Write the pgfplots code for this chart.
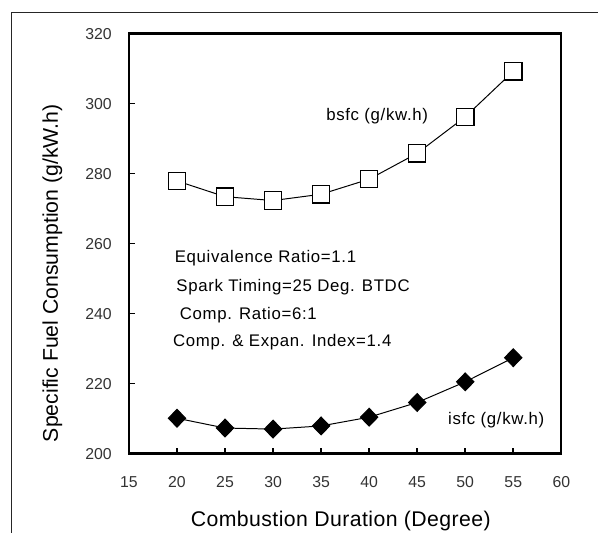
\documentclass[border=0pt]{standalone}
\usepackage{pgfplots}
\pgfplotsset{compat=1.18}
\usepackage{fontspec}
\setmainfont{Liberation Sans}
\newfontfamily\annfont[LetterSpace=4]{Liberation Sans}
\newfontfamily\xlabfont[LetterSpace=2]{Liberation Sans}
\begin{document}
\begin{tikzpicture}
\begin{axis}[name=ax, at={(0,0)}, anchor=south west,
 scale only axis, width=437.5bp, height=425bp,
 xmin=15,xmax=60,ymin=200,ymax=320,
 xtick={15,20,...,60}, ytick={200,220,...,320},
 tick pos=left, tick align=inside, major tick length=6bp,
 axis line style={line width=2.4bp},
 tick style={line width=1.6bp, black},
 /pgf/number format/assume math mode=true,
 ticklabel style={font=\fontsize{16bp}{19bp}\selectfont, text=black!80},
 xticklabel style={yshift=-20bp},
 yticklabel style={xshift=-14bp},
 xlabel={Combustion Duration (Degree)},
 ylabel={Specific Fuel Consumption (g/kW.h)},
 xlabel style={font=\xlabfont\fontsize{21.5bp}{25bp}\selectfont, at={(axis description cs:0.49,-0.174)}, anchor=base},
 ylabel style={font=\fontsize{21.5bp}{25bp}\selectfont, at={(axis description cs:-0.177,0.4294)}, anchor=center},
 clip=false,
]
\addplot[black, line width=1bp, mark=square*, mark size=8.8bp, mark options={line width=1.2bp, draw=black, fill=white}]
 coordinates {(20,277.9) (25,273.4) (30,272.3) (35,274.1) (40,278.4) (45,285.8) (50,296.2) (55,309.2)};
\addplot[black, line width=1bp, mark=diamond*, mark size=9bp, mark options={xscale=1.3, fill=black}]
 coordinates {(20,210.1) (25,207.3) (30,207.0) (35,207.9) (40,210.4) (45,214.6) (50,220.5) (55,227.4)};
\begin{scope}[every node/.style={font=\annfont\fontsize{17bp}{20bp}\selectfont, anchor=base west, inner sep=0pt}]
\node at (axis cs:19.75,254.5) {Equivalence Ratio=1.1};
\node at (axis cs:19.92,246.3) {Spark Timing=25 Deg. BTDC};
\node at (axis cs:20.27,238.4) {Comp. Ratio=6:1};
\node at (axis cs:19.58,230.7) {Comp. \& Expan. Index=1.4};
\node at (axis cs:35.52,295.2) {bsfc (g/kw.h)};
\node at (axis cs:48.2,208.2) {isfc (g/kw.h)};
\end{scope}
\end{axis}
\draw[line width=1.3bp, black!85] (-118.5bp,-80bp) -- (-118.5bp,446bp) -- (475bp,446bp);
\useasboundingbox (-130.5bp,-74bp) rectangle (468.5bp,459bp);
\end{tikzpicture}
\end{document}
